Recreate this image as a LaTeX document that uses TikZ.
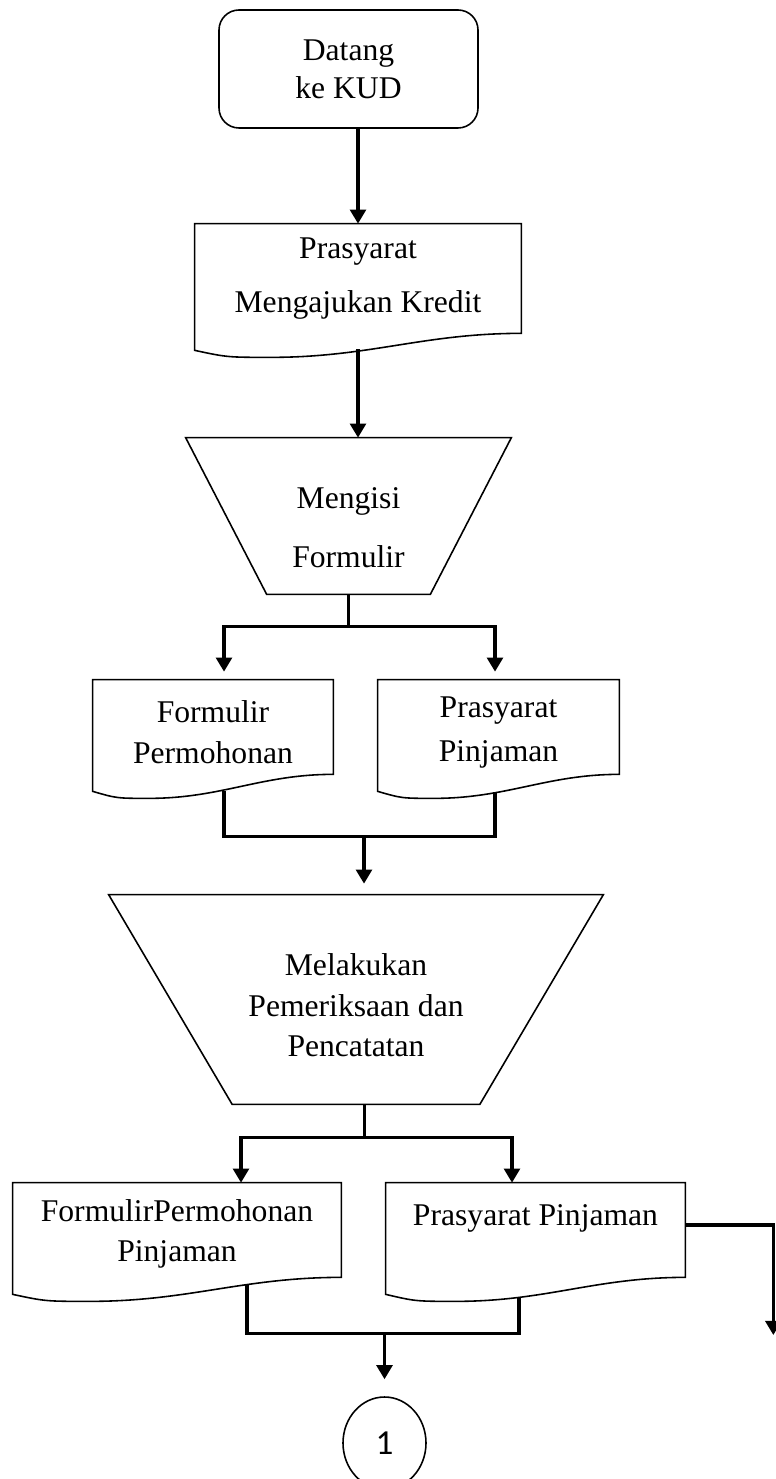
\documentclass[tikz,border=0pt]{standalone}
\usepackage{fontspec}
\setmainfont{Liberation Serif}
\newfontfamily\angka{Carlito}
\usetikzlibrary{arrows.meta,calc,shapes.geometric}

\newdimen\satuan
\satuan=0.02cm

\tikzset{
  teks/.style={inner sep=0pt, align=center, font=\fontsize{18}{23.2}\selectfont},
  kotak/.style 2 args={teks, minimum width=#1\satuan, minimum height=#2\satuan},
  bingkai/.style={line width=0.9pt},
  garis/.style={line width=1.8pt},
  panah/.style={garis, -{Triangle[width=9pt,length=8pt]}},
}

% dokumen dengan sisi bawah bergelombang
\newcommand{\dokumen}[1]{%
  \draw[bingkai] (#1.north west) -- (#1.north east) -- (#1.south east)
    .. controls ($(#1.south east)!0.3!(#1.south west)$)
       and ($(#1.south west)!0.535!(#1.south east)+(0,24)$)
    .. ($(#1.south west)!0.235!(#1.south east)+(0,24)$)
    .. controls ($(#1.south west)!0.1!(#1.south east)+(0,24)$)
    .. ($(#1.south west)+(0,17)$) -- cycle;}

% trapesium terbalik (proses manual)
\newcommand{\trapesium}[2]{%
  \draw[bingkai] (#1.north west) -- (#1.north east)
    -- ($(#1.south east)+(-#2,0)$) -- ($(#1.south west)+(#2,0)$) -- cycle;}

\begin{document}
\begin{tikzpicture}[x=\satuan, y=-\satuan]
\path[use as bounding box, fill=white] (0,0) rectangle (776,1479);

% Simbol
\node[kotak={259}{118}, draw, bingkai, rounded corners=20\satuan] (mulai) at (348.5,69) {Datang\\[-1.5pt]ke KUD};
\node[kotak={326}{109}] (d1) at (358,278.5) {Prasyarat\\[7.5pt]Mengajukan Kredit};
\node[kotak={325}{156}] (t1) at (348.5,516) {\rule{0pt}{25pt}Mengisi\\[10.4pt]Formulir};
\node[kotak={240}{94}] (d2) at (213,727) {\rule{0pt}{18pt}Formulir\\Permohonan};
\node[kotak={241}{94}] (d3) at (498.5,727) {\rule{0pt}{18pt}Prasyarat\\[1.5pt]Pinjaman};
\node[kotak={494}{209}] (t2) at (356,999.5) {\rule{0pt}{19pt}Melakukan\\Pemeriksaan dan\\Pencatatan};
\node[kotak={328}{94}] (d4) at (177,1230) {\rule{0pt}{17pt}FormulirPermohonan\\Pinjaman};
\node[kotak={299}{94}] (d5) at (535.5,1230) {\rule{0pt}{18pt}Prasyarat Pinjaman\\\mbox{}};
\node[draw, bingkai, ellipse, inner sep=0pt, minimum width=83\satuan, minimum height=92\satuan,
      font=\angka\fontsize{20}{24}\selectfont] (sambung) at (384.5,1443) {1};

\dokumen{d1}
\trapesium{t1}{81}
\dokumen{d2}
\dokumen{d3}
\trapesium{t2}{123.5}
\dokumen{d4}
\dokumen{d5}

% Datang -> Prasyarat -> Mengisi
\draw[panah] (mulai.south -| d1.north) -- (d1.north);
\draw[panah] ($(d1.south)+(0,16)$) -- (d1.south |- t1.north);

% Percabangan Mengisi Formulir
\draw[garis] (t1.south) -- ++(0,32) coordinate (cab1);
\draw[panah, shorten >=8\satuan] (cab1) -| ($(d2.north)+(11,0)$);
\draw[panah, shorten >=8\satuan] (cab1) -| ($(d3.north)+(-3.5,0)$);

% Gabung ke Melakukan Pemeriksaan
\coordinate (gab1) at ($(t2.north)+(8,-58)$);
\draw[garis] ($(d2.south)+(11,17)$) |- (gab1) -| ($(d3.south)+(-3.5,18)$);
\draw[panah, shorten >=11\satuan] (gab1) -- (gab1 |- t2.north);

% Percabangan Melakukan Pemeriksaan
\draw[garis] ($(t2.south)+(8.5,0)$) -- ++(0,33) coordinate (cab2);
\draw[panah] (cab2) -| ($(d4.north)+(64,0)$);
\draw[panah] (cab2) -| ($(d5.north)+(-23.5,0)$);

% Gabung ke penghubung 1
\coordinate (gab2) at ($(sambung.north)+(0,-63)$);
\draw[garis] ($(d4.south west)!0.713!(d4.south east)+(0,8)$) |- (gab2)
  -| ($(d5.south west)!0.445!(d5.south east)+(0,20)$);
\draw[panah, shorten >=17\satuan] (gab2) -- (sambung.north);

% Keluar ke kanan
\coordinate (keluar) at ($(d5.east)+(88,105)$);
\draw[panah] ($(d5.east)+(0,-5)$) -| (keluar);
\end{tikzpicture}
\end{document}
